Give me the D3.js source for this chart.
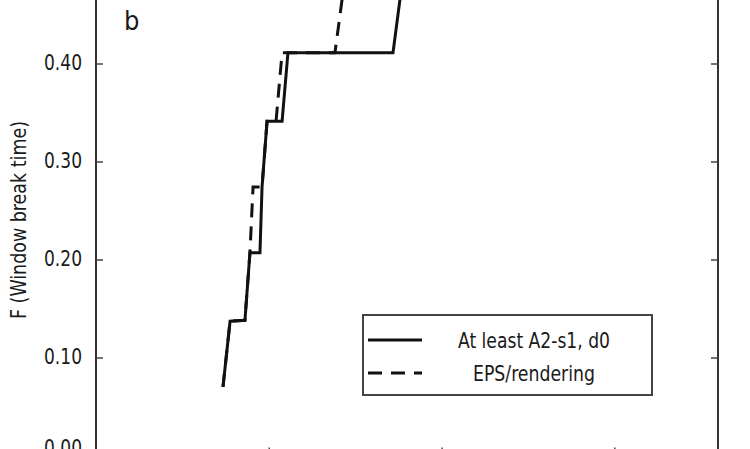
<!DOCTYPE html>
<html>
<head>
<meta charset="utf-8">
<script src="https://cdn.jsdelivr.net/npm/d3@7"></script>
<style>
  html, body { margin: 0; padding: 0; background: #fff; }
  svg { display: block; font-family: "DejaVu Sans Condensed", "DejaVu Sans", sans-serif; font-stretch: condensed; }
</style>
</head>
<body>
<div id="chart"></div>
<script>
// step curves (x in axis units, F = fraction)
const solidX = [0.735, 0.776, 0.862, 0.891, 0.949, 0.961, 0.990, 1.077, 1.111, 1.719, 1.759, 1.775];
const solidF = [0.070, 0.137, 0.138, 0.207, 0.207, 0.274, 0.341, 0.341, 0.411, 0.411, 0.465, 0.48];
const dashX = [0.735, 0.776, 0.862, 0.891, 0.909, 0.961, 0.990, 1.042, 1.077, 1.383, 1.424, 1.44];
const dashF = [0.070, 0.137, 0.138, 0.207, 0.274, 0.274, 0.341, 0.341, 0.411, 0.411, 0.465, 0.48];

const yTicks = [0, 0.1, 0.2, 0.3, 0.4];
const xTicks = [1, 2, 3];
const legendLabels = ["At least A2-s1, d0", "EPS/rendering"];

(function () {
    const width = 750, height = 449;
    const left = 96, right = 718, zeroY = 455.5;

    const svg = d3.select("#chart").append("svg")
        .attr("width", width)
        .attr("height", height)
        .style("overflow", "hidden");

    const x = d3.scaleLinear().domain([0, 3.6]).range([left, right]);
    const y = d3.scaleLinear().domain([0, 0.5]).range([zeroY, zeroY - 490]);

    // frame lines
    svg.append("line").attr("x1", left).attr("x2", left).attr("y1", y(0.5)).attr("y2", zeroY)
        .attr("stroke", "#333").attr("stroke-width", 2);
    svg.append("line").attr("x1", right).attr("x2", right).attr("y1", y(0.5)).attr("y2", zeroY)
        .attr("stroke", "#333").attr("stroke-width", 2);

    const fmt = d3.format(".2f");

    const yAxisL = svg.append("g").attr("transform", `translate(${left},0)`)
        .call(d3.axisRight(y).tickValues(yTicks).tickSize(7).tickFormat(""));
    yAxisL.select(".domain").remove();
    yAxisL.selectAll("line").attr("stroke", "#444").attr("stroke-width", 1.5);

    const yAxisR = svg.append("g").attr("transform", `translate(${right},0)`)
        .call(d3.axisLeft(y).tickValues(yTicks).tickSize(7).tickFormat(""));
    yAxisR.select(".domain").remove();
    yAxisR.selectAll("line").attr("stroke", "#444").attr("stroke-width", 1.5);

    const xAxis = svg.append("g").attr("transform", `translate(0,${zeroY})`)
        .call(d3.axisTop(x).tickValues(xTicks).tickSize(8).tickFormat(""));
    xAxis.select(".domain").remove();
    xAxis.selectAll("line").attr("stroke", "#444").attr("stroke-width", 1.5);

    // tick labels
    svg.append("g").selectAll("text")
        .data(yTicks)
        .join("text")
        .attr("x", 82)
        .attr("y", d => y(d) - (d === 0 ? 8 : 1))
        .attr("dy", "0.35em")
        .attr("text-anchor", "end")
        .attr("font-size", 22)
        .attr("textLength", 38)
        .attr("lengthAdjust", "spacingAndGlyphs")
        .attr("fill", "#1a1a1a")
        .text(d => fmt(d));

    // axis title
    svg.append("text")
        .attr("transform", "translate(26,220) rotate(-90)")
        .attr("text-anchor", "middle")
        .attr("font-size", 22)
        .attr("textLength", 198)
        .attr("lengthAdjust", "spacingAndGlyphs")
        .attr("fill", "#1a1a1a")
        .text("F (Window break time)");

    svg.append("text")
        .attr("x", 124).attr("y", 30)
        .attr("font-size", 27)
        .attr("fill", "#1a1a1a")
        .text("b");

    const line = d3.line().x(d => x(d[0])).y(d => y(d[1]));

    svg.append("path")
        .datum(solidX.map((v, i) => [v, solidF[i]]))
        .attr("d", line)
        .attr("fill", "none")
        .attr("stroke", "#111")
        .attr("stroke-width", 3)
        .attr("stroke-linejoin", "miter");

    svg.append("path")
        .datum(dashX.map((v, i) => [v, dashF[i]]))
        .attr("d", line)
        .attr("fill", "none")
        .attr("stroke", "#111")
        .attr("stroke-width", 3)
        .attr("stroke-dasharray", "14,9");

    // legend
    const lg = svg.append("g");
    lg.append("rect")
        .attr("x", 363).attr("y", 315).attr("width", 289).attr("height", 80)
        .attr("fill", "#fff").attr("stroke", "#444").attr("stroke-width", 2);

    const rows = lg.selectAll("g.row")
        .data(legendLabels)
        .join("g")
        .attr("class", "row")
        .attr("transform", (d, i) => `translate(0,${340 + i * 33})`);

    rows.append("line")
        .attr("x1", 368).attr("x2", 422)
        .attr("stroke", "#111").attr("stroke-width", 3)
        .attr("stroke-dasharray", (d, i) => i ? "14,9" : null);

    rows.append("text")
        .attr("x", 534).attr("y", 8)
        .attr("text-anchor", "middle")
        .attr("font-size", 22)
        .attr("textLength", (d, i) => i ? 122 : 152)
        .attr("lengthAdjust", "spacingAndGlyphs")
        .attr("fill", "#1a1a1a")
        .text(d => d);
})();
</script>
</body>
</html>
